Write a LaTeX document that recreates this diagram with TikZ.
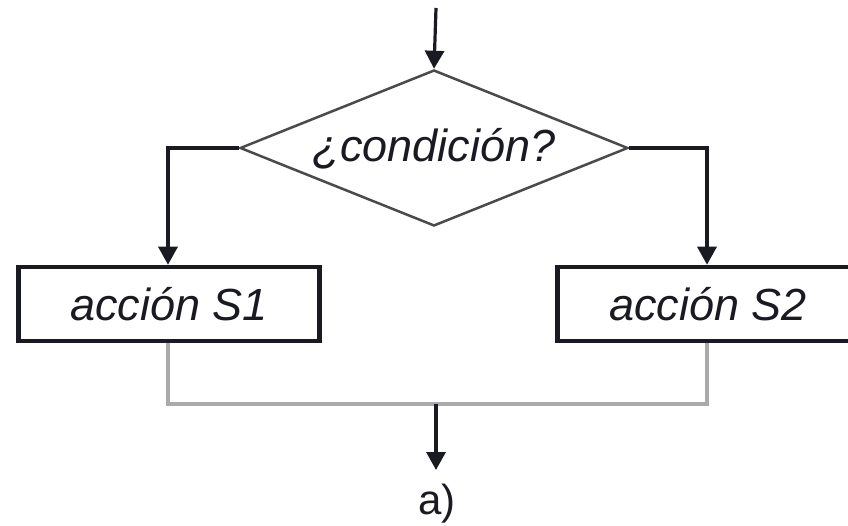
\documentclass[tikz,border=0pt]{standalone}
\usepackage{fontspec}
\setmainfont{Liberation Sans}
\usetikzlibrary{arrows.meta,shapes.geometric}
\definecolor{ink}{HTML}{1A1A22}
\definecolor{rim}{HTML}{4A4A4A}
\definecolor{joinc}{HTML}{AAAAAA}
\begin{document}
\begin{tikzpicture}[x=1pt,y=-1pt,
  txt/.style={font=\fontsize{45}{50}\selectfont\itshape, text=ink, inner sep=0pt},
  actbox/.style={draw=ink, line width=4.5pt, minimum width=301pt, minimum height=74pt, inner sep=0pt, font=\fontsize{45}{50}\selectfont\itshape, text=ink},
  cond/.style={diamond, draw=rim, line width=2.5pt, minimum width=388pt, minimum height=156pt, inner sep=0pt},
  flow/.style={draw=ink, line width=3.2pt, -{Triangle[length=18pt,width=19pt]}},
  joinline/.style={draw=joinc, line width=4pt}]
\useasboundingbox (0,0) rectangle (848,526);
\coordinate (start) at (436,8);
\node[cond] (dec) at (434,148) {};
\node[txt] (dectxt) at (434,149) {¿condición?};
\node[actbox] (s1) at (169,304) {acción S1};
\node[actbox] (s2) at (708,304) {acción S2};
\coordinate (lcorner) at (168,148);
\coordinate (rcorner) at (707,148);
\coordinate (jl) at (168,404);
\coordinate (jr) at (707,404);
\coordinate (jm) at (436,404);
\coordinate (endp) at (436,470);
\node[txt, font=\fontsize{42}{48}\selectfont\upshape] (lab) at (437,504) {a)};
\draw[flow] (start) -- (dec.north);
\draw[flow] (dec.west) -- (lcorner) -- (s1.north -| lcorner);
\draw[flow] (dec.east) -- (rcorner) -- (s2.north -| rcorner);
\draw[joinline] (s1.south -| jl) -- (jl) -- (jr) -- (s2.south -| jr);
\draw[flow] (jm) -- (endp);
\end{tikzpicture}
\end{document}
